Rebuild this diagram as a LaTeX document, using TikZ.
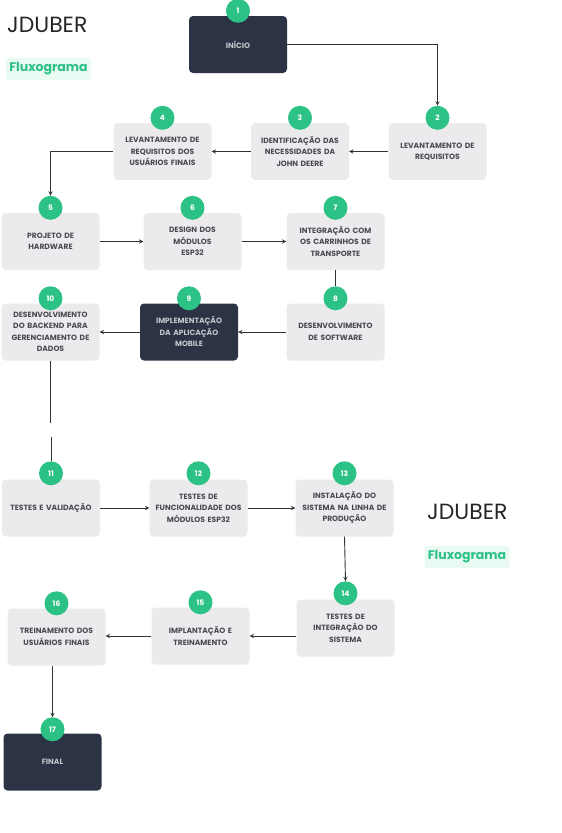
\documentclass[tikz,border=0pt]{standalone}
\usepackage{fontspec}
\setmainfont{Poppins}
\usepackage{xcolor}
\usetikzlibrary{positioning}
\definecolor{navy}{HTML}{2C3345}
\definecolor{cinza}{HTML}{EBEBEE}
\definecolor{verde}{HTML}{2CC185}
\definecolor{menta}{HTML}{E8FAF2}
\definecolor{texto}{HTML}{4A4A50}
\definecolor{linha}{HTML}{333333}

\begin{document}
\begin{tikzpicture}
		[x=1pt,y=-1pt,>=stealth,
		task/.style={rectangle,rounded corners=4pt,fill=cinza,text=texto,inner sep=0pt,minimum width=98pt,minimum height=57pt,text width=98pt,align=center,font=\fontsize{7.6}{11.5}\selectfont\bfseries},
		terminal/.style={task,fill=navy,text=white!72!navy},
		badge/.style={circle,fill=verde,text=white,inner sep=0pt,minimum size=24pt,font=\fontsize{7.5}{8}\selectfont\bfseries},
		title/.style={anchor=west,text=black!85,inner sep=0pt,font=\fontsize{22}{24}\selectfont},
		tag/.style={rectangle,rounded corners=3pt,fill=menta,text=verde,inner sep=0pt,minimum width=85pt,minimum height=22pt,font=\fontsize{12.5}{14}\selectfont\bfseries},
		link/.style={draw=linha,line width=0.9pt}]
		\useasboundingbox (0,0) rectangle (562,833);

		\node [title] (t1) at (7,25) {JDUBER};
		\node [tag] (f1) at (48.5,69) {Fluxograma};
		\node [title] (t2) at (427,512) {JDUBER};
		\node [tag] (f2) at (467,557) {Fluxograma};

		\node [terminal] (b1) at (238,44.5) {INÍCIO};
		\node [task] (b2) at (437.5,151.5) {LEVANTAMENTO DE\\REQUISITOS};
		\node [task] (b3) at (300,151.5) {IDENTIFICAÇÃO DAS\\NECESSIDADES DA\\JOHN DEERE};
		\node [task] (b4) at (162.5,151.5) {LEVANTAMENTO DE\\REQUISITOS DOS\\USUÁRIOS FINAIS};
		\node [task] (b5) at (50.5,241.5) {PROJETO DE\\HARDWARE};
		\node [task] (b6) at (192.5,241.5) {DESIGN DOS\\MÓDULOS\\ESP32};
		\node [task] (b7) at (335.5,241.5) {INTEGRAÇÃO COM\\OS CARRINHOS DE\\TRANSPORTE};
		\node [task] (b8) at (335.5,332) {DESENVOLVIMENTO\\DE SOFTWARE};
		\node [terminal] (b9) at (189,332) {IMPLEMENTAÇÃO\\DA APLICAÇÃO\\MOBILE};
		\node [task] (b10) at (50.5,332) {DESENVOLVIMENTO\\DO BACKEND PARA\\GERENCIAMENTO DE\\DADOS};
		\node [task] (b11) at (51,508) {TESTES E VALIDAÇÃO};
		\node [task] (b12) at (198.5,508) {TESTES DE\\FUNCIONALIDADE DOS\\MÓDULOS ESP32};
		\node [task] (b13) at (344.5,508) {INSTALAÇÃO DO\\SISTEMA NA LINHA DE\\PRODUÇÃO};
		\node [task] (b14) at (345.5,628) {TESTES DE\\INTEGRAÇÃO DO\\SISTEMA};
		\node [task] (b15) at (200.5,636) {IMPLANTAÇÃO E\\TREINAMENTO};
		\node [task] (b16) at (56.5,637) {TREINAMENTO DOS\\USUÁRIOS FINAIS};
		\node [terminal] (b17) at (52.5,762) {FINAL};

		\node [badge] (n1) at ([yshift=5pt]b1.north) {1};
		\node [badge] (n2) at ([yshift=5pt]b2.north) {2};
		\node [badge] (n3) at ([yshift=5pt]b3.north) {3};
		\node [badge] (n4) at ([yshift=5pt]b4.north) {4};
		\node [badge] (n5) at ([yshift=5pt]b5.north) {5};
		\node [badge] (n6) at ([yshift=5pt]b6.north) {6};
		\node [badge] (n7) at ([yshift=5pt]b7.north) {7};
		\node [badge] (n8) at ([yshift=5pt]b8.north) {8};
		\node [badge] (n9) at ([yshift=5pt]b9.north) {9};
		\node [badge] (n10) at ([yshift=5pt]b10.north) {10};
		\node [badge] (n11) at ([yshift=6pt]b11.north) {11};
		\node [badge] (n12) at ([yshift=6pt]b12.north) {12};
		\node [badge] (n13) at ([yshift=6pt]b13.north) {13};
		\node [badge] (n14) at ([yshift=6pt]b14.north) {14};
		\node [badge] (n15) at ([yshift=5pt]b15.north) {15};
		\node [badge] (n16) at ([yshift=5pt]b16.north) {16};
		\node [badge] (n17) at ([yshift=4pt]b17.north) {17};

		\coordinate (corte1) at ([yshift=-62pt]b10.south);
		\coordinate (corte2) at ([yshift=24pt]n11.north);

		\draw [link,->] (b1.east) -| (n2.north);
		\draw [link,->] (b2) -- (b3);
		\draw [link,->] (b3) -- (b4);
		\draw [link,->] (b4.west) -| (n5.north);
		\draw [link,->] (b5) -- (b6);
		\draw [link,->] (b6) -- (b7);
		\draw [link] (b7.south) -- (n8.north);
		\draw [link,->] (b8) -- (b9);
		\draw [link,->] (b9) -- (b10);
		\draw [link] (b10.south) -- (corte1);
		\draw [link] (corte2) -- (n11.north);
		\draw [link,->] (b11) -- (b12);
		\draw [link,->] (b12) -- (b13);
		\draw [link,->] (b13.south) -- (n14.north);
		\draw [link,->] (b14.west |- b15.east) -- (b15.east);
		\draw [link,->] (b15.west) -- (b15.west -| b16.east);
		\draw [link,->] (n17.north |- b16.south) -- (n17.north);

	\end{tikzpicture}
\end{document}
